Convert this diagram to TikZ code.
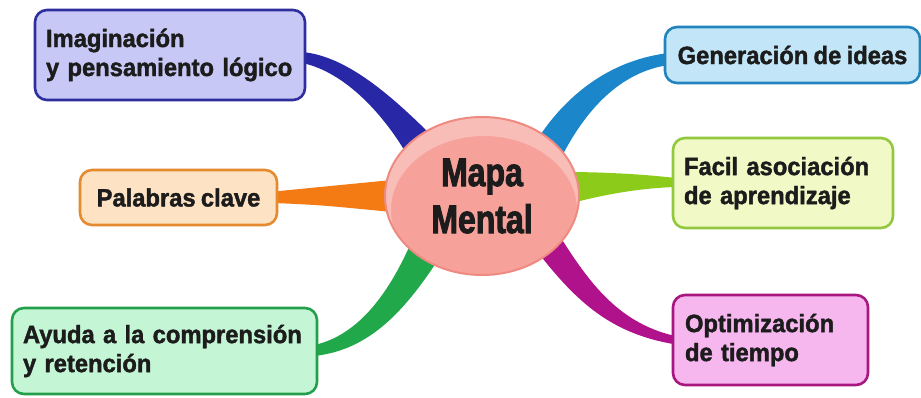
\documentclass[tikz,border=0pt]{standalone}
\usepackage{fontspec}
\setmainfont[FakeStretch=0.95, FakeBold=1.6, WordSpace=0.8]{Liberation Sans}
\newfontfamily\mapfont[FakeStretch=0.8, FakeBold=2.2]{Liberation Sans}
\usetikzlibrary{positioning, calc, backgrounds, shapes.geometric}

\definecolor{inktext}{HTML}{1C1C1C}
\definecolor{imagfill}{HTML}{C8C8F6}
\definecolor{imagline}{HTML}{2E2E9E}
\definecolor{palfill}{HTML}{FDE3C3}
\definecolor{palline}{HTML}{E58A2E}
\definecolor{ayufill}{HTML}{C4F6D5}
\definecolor{ayuline}{HTML}{24A04C}
\definecolor{genfill}{HTML}{C2E6F7}
\definecolor{genline}{HTML}{2283BE}
\definecolor{facfill}{HTML}{F1FAC6}
\definecolor{facline}{HTML}{92C83E}
\definecolor{optfill}{HTML}{F6B6EE}
\definecolor{optline}{HTML}{A8177F}
\definecolor{mmfill}{HTML}{F6A19A}
\definecolor{mmhi}{HTML}{F9BDB7}
\definecolor{mmline}{HTML}{EE8A80}
\definecolor{brblue}{HTML}{2828A6}
\definecolor{brsky}{HTML}{1B87CA}
\definecolor{brorange}{HTML}{F47A14}
\definecolor{brlime}{HTML}{8DCB1B}
\definecolor{brgreen}{HTML}{21A84A}
\definecolor{brmag}{HTML}{B0128C}

\begin{document}
\begin{tikzpicture}[
    x=1pt, y=-1pt,
    box/.style={draw, rounded corners=12pt, line width=2.6pt, text=inktext, inner xsep=11pt, inner ysep=0pt,
                font=\fontsize{25}{29}\selectfont\bfseries},
    leftbox/.style={box, align=left},
    mapnode/.style={ellipse, minimum width=194, minimum height=158, fill=mmfill, inner sep=0pt,
                    text=inktext, align=center, font=\mapfont\fontsize{40}{47}\selectfont\bfseries},
]
\useasboundingbox (0,0) rectangle (921,397);

% central node
\node[mapnode, path picture={
    \fill[mmhi, even odd rule] (path picture bounding box.center) ellipse [x radius=100, y radius=82]
        ($(path picture bounding box.center)+(2,14)$) ellipse [x radius=93, y radius=74];
  }] (mm) at (482,196) {Mapa\\Mental};
\draw[mmline, line width=2pt] (mm.center) ellipse [x radius=97, y radius=79];

% left side
\node[leftbox, fill=imagfill, draw=imagline, minimum width=270, minimum height=90, text width=248] (imag) at (170,55) {Imaginación\\y pensamiento lógico};
\node[box, fill=palfill, draw=palline, minimum width=197, minimum height=55] (pal) at (178.5,197.5) {Palabras clave};
\node[leftbox, fill=ayufill, draw=ayuline, minimum width=303, minimum height=86, text width=283] (ayu) at (164.5,351) {Ayuda a la comprensión\\y retención};

% right side
\node[box, fill=genfill, draw=genline, minimum width=255, minimum height=56] (gen) at (792.5,55) {Generación de ideas};
\node[leftbox, fill=facfill, draw=facline, minimum width=220, minimum height=90, text width=198] (fac) at (783,183) {Facil asociación\\de aprendizaje};
\node[leftbox, fill=optfill, draw=optline, minimum width=195, minimum height=90, text width=171] (opt) at (770.5,340) {Optimización\\de tiempo};

% tapered branches, under the nodes
\begin{scope}[on background layer]
\fill[white] (0,0) rectangle (921,397);
\fill[brblue] ($(imag.east)+(-4,-3)$) .. controls (345,56) and (388,92) .. ($(mm.center)+(-49,-59)$)
    -- ($(mm.center)+(-72,-36)$) .. controls (385,115) and (345,72) .. ($(imag.east)+(-4,8)$) -- cycle;
\fill[brsky] ($(mm.center)+(53,-53)$) .. controls (565,95) and (610,60) .. ($(gen.west)+(5,-2)$)
    -- ($(gen.west)+(5,10)$) .. controls (620,72) and (585,110) .. ($(mm.center)+(78,-36)$) -- cycle;
\fill[brorange] ($(pal.east)+(-4,-6)$) .. controls (320,187) .. ($(mm.center)+(-90,-16)$)
    -- ($(mm.center)+(-90,16)$) .. controls (320,205) .. ($(pal.east)+(-4,5.5)$) -- cycle;
\fill[brlime] ($(mm.center)+(83,-24)$) .. controls (610,172) and (650,175) .. ($(fac.west)+(4,-5)$)
    -- ($(fac.west)+(4,4)$) .. controls (640,188) and (600,195) .. ($(mm.center)+(83,9)$) -- cycle;
\fill[brgreen] ($(mm.center)+(-72,49)$) .. controls (390,290) and (360,335) .. ($(ayu.east)+(-4,-6)$)
    -- ($(ayu.east)+(-4,5)$) .. controls (370,350) and (405,310) .. ($(mm.center)+(-44,64)$) -- cycle;
\fill[brmag] ($(mm.center)+(74,34)$) .. controls (590,285) and (620,325) .. ($(opt.west)+(8,-3)$)
    -- ($(opt.west)+(8,5)$) .. controls (610,335) and (575,300) .. ($(mm.center)+(54,54)$) -- cycle;
\end{scope}

\end{tikzpicture}
\end{document}
